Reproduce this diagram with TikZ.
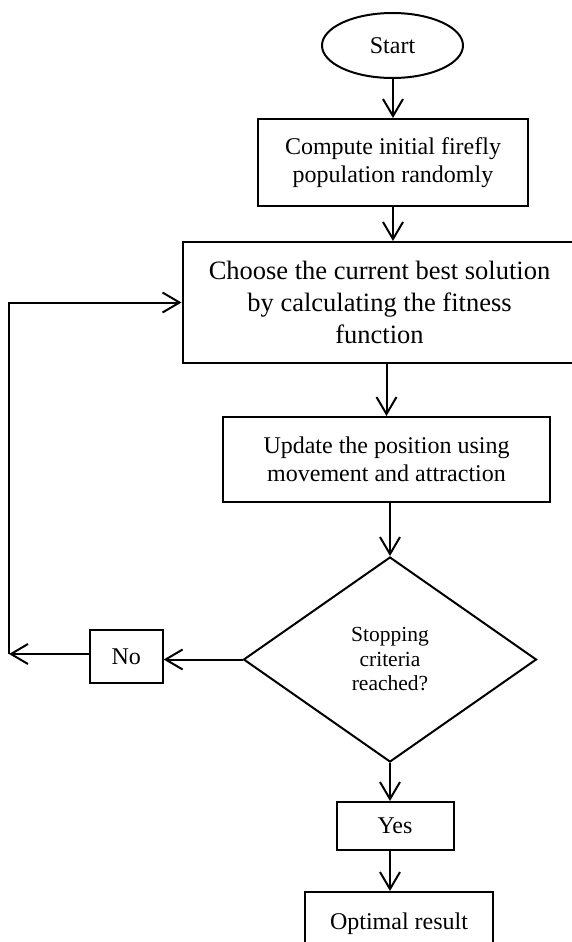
\documentclass[tikz,border=0pt]{standalone}
\usepackage{fontspec}
\setmainfont{Liberation Serif}
\usetikzlibrary{shapes.geometric,arrows.meta}
\begin{document}
\begin{tikzpicture}[x=1pt,y=-1pt,line width=2pt,every node/.style={inner sep=0pt,align=center,font=\fontsize{24}{27.5}\selectfont}]
\tikzstyle{arrow}=[draw,-{Straight Barb[length=17pt,width=20pt]}]
\tikzstyle{box}=[draw,rectangle]
\useasboundingbox (0,0) rectangle (572,942);

\node[draw,ellipse,minimum width=141pt,minimum height=65pt](start) at (392.5,45.5){Start};
\node[box,minimum width=270pt,minimum height=87pt](init) at (393,162.5){Compute initial firefly\\population randomly};
\node[box,minimum width=394pt,minimum height=121pt,font=\fontsize{26.5}{32}\selectfont](best) at (379.5,302.5){Choose the current best solution\\by calculating the fitness\\function};
\node[box,minimum width=327pt,minimum height=85pt](upd) at (386.5,459.5){Update the position using\\movement and attraction};
\node[draw,diamond,minimum width=293pt,minimum height=205pt,font=\fontsize{21.5}{24.5}\selectfont](stop) at (390,659.5){Stopping\\criteria\\reached?};
\node[box,minimum width=72.7pt,minimum height=53pt](no) at (126.3,656.5){No};
\node[box,minimum width=117pt,minimum height=48pt](yes) at (395,826){Yes};
\node[box,minimum width=188pt,minimum height=64pt](res) at (399,924){Optimal result};
\coordinate (lft) at (9,654);

\path[arrow](start.south -| init)--(init.north);
\path[arrow](init.south)--(init.south |- best.north);
\path[arrow](upd.north |- best.south)--(upd.north);
\path[arrow](stop.north |- upd.south)--(stop.north);
\path[arrow](stop.west)--(stop.west -| no.east);
\path[arrow]([yshift=2.5pt]no.west)--(lft);
\path[arrow](lft)|-(best.west);
\path[arrow](stop.south)--(stop.south |- yes.north);
\path[arrow](yes.south -| stop.south)--(res.north -| stop.south);
\end{tikzpicture}
\end{document}
